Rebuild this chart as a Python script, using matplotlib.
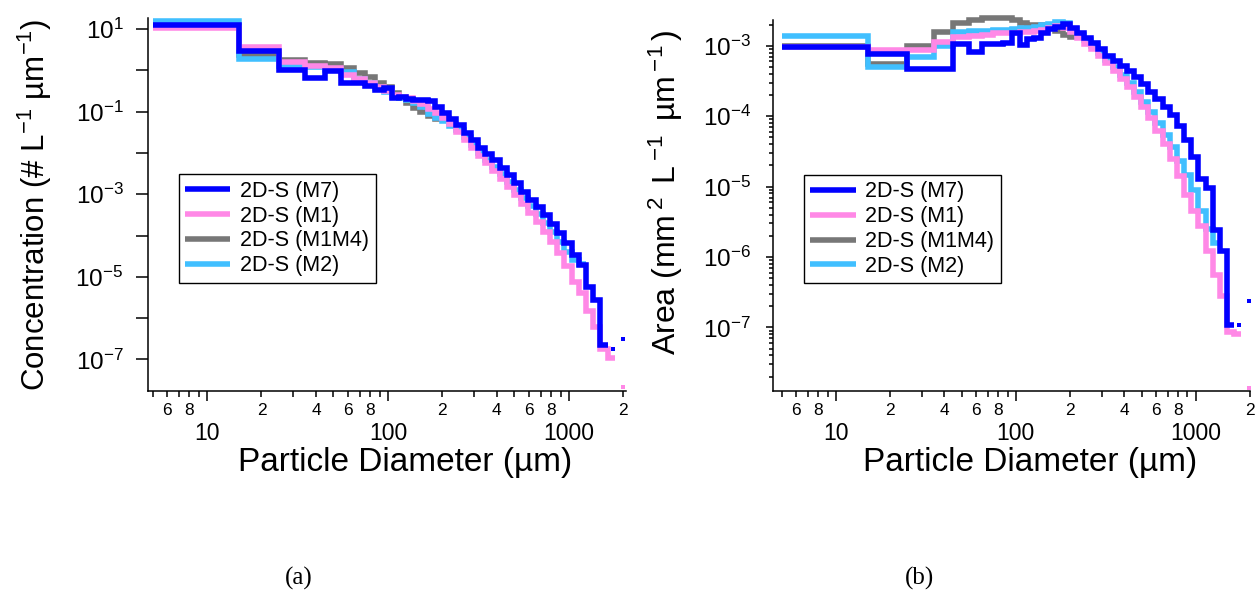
import numpy as np
import matplotlib
matplotlib.use('Agg')
import matplotlib.pyplot as plt
from matplotlib.ticker import LogLocator, FuncFormatter, NullFormatter

plt.rcParams['font.family'] = ['Liberation Sans', 'DejaVu Sans']
plt.rcParams['mathtext.fontset'] = 'custom'
plt.rcParams['mathtext.rm'] = 'Liberation Sans'
plt.rcParams['mathtext.it'] = 'Liberation Sans:italic'
plt.rcParams['mathtext.default'] = 'regular'
plt.rcParams['axes.unicode_minus'] = False

nan = np.nan

# bin edges (um)
edges = [5, 15, 25, 35, 45, 55, 65, 75, 85, 95, 105, 115, 126, 138, 151, 166, 182,
         199, 218, 239, 262, 287, 315, 345, 378, 414, 454, 498, 546, 598, 655, 718,
         787, 862, 945, 1036, 1135, 1244, 1363, 1494, 1637, 1794]

# (a) number concentration, # L-1 um-1
conc_m7 = [12.5, 3.0, 1.02, 0.64, 0.98, 0.50, 0.50, 0.42, 0.33, 0.37,
           0.21, 0.22, 0.20, 0.19, 0.19, 0.18, 0.13, 0.095, 0.068, 0.047,
           0.031, 0.020, 0.0135, 9.5e-3, 6.7e-3, 4.4e-3, 2.9e-3, 1.85e-3, 1.15e-3, 7.4e-4,
           4.9e-4, 3.1e-4, 1.9e-4, 1.15e-4, 6.5e-5, 3.3e-5, 1.9e-5, 5.8e-6, 2.7e-6, 2.2e-7]
conc_m1 = [10.5, 3.7, 1.62, 1.3, 1.11, 0.77, 0.62, 0.50, 0.39, 0.31,
           0.25, 0.23, 0.21, 0.18, 0.155, 0.115, 0.095, 0.072, 0.050, 0.033,
           0.021, 0.0135, 8.6e-3, 5.6e-3, 3.6e-3, 2.4e-3, 1.5e-3, 9.5e-4, 5.8e-4, 3.5e-4,
           2.1e-4, 1.25e-4, 7.0e-5, 3.8e-5, 1.8e-5, 7.5e-6, 4.0e-6, 1.5e-6, 6.0e-7, 1.8e-7,
           1.1e-7]
conc_m1m4 = [12.0, 2.3, 1.75, 1.53, 1.42, 1.11, 0.88, 0.68, 0.50, 0.39,
             0.28, 0.21, 0.16, 0.12, 0.10, 0.08, 0.065]
conc_m2 = [16.0, 1.9, 1.3, 1.2, 1.0, 0.9, 0.6, 0.48, 0.37, 0.30,
           0.23, 0.21, 0.19, 0.16, 0.13, 0.09, 0.07, 0.06, 0.045, 0.036,
           0.024, 0.0155, 0.010, 6.8e-3, 4.6e-3, 3.1e-3, 2.0e-3, 1.3e-3, 8.2e-4, 5.2e-4,
           3.3e-4, 2.0e-4, 1.2e-4, 7.0e-5, 4.0e-5, 2.5e-5, 2.0e-5]

# (b) area, mm2 L-1 um-1
area_m7 = [9.7e-4, 7.6e-4, 4.7e-4, 4.7e-4, 1.08e-3, 8.2e-4, 1.05e-3, 1.08e-3, 1.1e-3, 1.5e-3,
           1.02e-3, 1.27e-3, 1.3e-3, 1.5e-3, 1.76e-3, 1.85e-3, 2.05e-3, 1.78e-3, 1.5e-3, 1.3e-3,
           1.1e-3, 9.0e-4, 7.2e-4, 6.0e-4, 5.1e-4, 4.4e-4, 3.6e-4, 2.85e-4, 2.2e-4, 1.75e-4,
           1.35e-4, 1.03e-4, 7.3e-5, 4.6e-5, 2.6e-5, 1.3e-5, 9.5e-6, 2.4e-6, 1.2e-6, 1.07e-7]
area_m1 = [9.5e-4, 8.6e-4, 8.6e-4, 1.15e-3, 1.35e-3, 1.4e-3, 1.45e-3, 1.5e-3, 1.5e-3, 1.52e-3,
           1.55e-3, 1.58e-3, 1.62e-3, 1.68e-3, 1.78e-3, 1.9e-3, 1.8e-3, 1.55e-3, 1.3e-3, 1.08e-3,
           8.9e-4, 7.2e-4, 5.7e-4, 4.4e-4, 3.4e-4, 2.6e-4, 1.9e-4, 1.35e-4, 9.5e-5, 6.2e-5,
           4.0e-5, 2.5e-5, 1.4e-5, 7.5e-6, 4.5e-6, 2.8e-6, 1.2e-6, 5.5e-7, 2.8e-7, 8.5e-8,
           8.0e-8]
area_m1m4 = [9.8e-4, 5.6e-4, 1.0e-3, 1.58e-3, 2.1e-3, 2.3e-3, 2.45e-3, 2.5e-3, 2.45e-3, 2.3e-3,
             2.1e-3, 2.0e-3, 1.97e-3, 1.95e-3, 1.85e-3, 1.65e-3, 1.45e-3, 1.35e-3]
area_m2 = [1.37e-3, 5.0e-4, 7.0e-4, 1.0e-3, 1.55e-3, 1.6e-3, 1.65e-3, 1.68e-3, 1.7e-3, 1.75e-3,
           1.8e-3, 1.82e-3, 1.88e-3, 1.95e-3, 2.05e-3, 2.15e-3, 2.1e-3, 1.75e-3, 1.45e-3, 1.2e-3,
           9.8e-4, 8.0e-4, 6.4e-4, 5.0e-4, 3.9e-4, 3.0e-4, 2.2e-4, 1.6e-4, 1.15e-4, 8.0e-5,
           5.5e-5, 3.6e-5, 2.3e-5, 1.45e-5, 9.0e-6, 4.5e-6, 2.5e-6, 1.6e-6]

# isolated points at the large end
tail_d = [1750, 1990]
conc_m7_tail = [1.8e-7, 3.2e-7]
conc_m1_tail = [nan, 2.1e-8]
area_m7_tail = [1.1e-7, 2.4e-7]
area_m1_tail = [nan, 1.4e-8]

labels = ['2D-S (M7)', '2D-S (M1)', '2D-S (M1M4)', '2D-S (M2)']
colors = ['#0000FF', '#FF88E6', '#777777', '#40BFFF']
draw_order = [2, 3, 1, 0]
LW = 4


def stairs(ax, vals, color, label, z):
    x = edges[:len(vals) + 1]
    y = list(vals) + [vals[-1]]
    line, = ax.plot(x, y, drawstyle='steps-post', color=color, lw=LW, label=label,
                    zorder=z, solid_joinstyle='miter', solid_capstyle='butt',
                    clip_on=False)
    return line


def dots(ax, vals, color, z):
    ax.plot(tail_d, vals, ls='none', marker='s', ms=3.5, mew=0, color=color, zorder=z)


def minor_lab(v, pos):
    m = int(round(v / 10 ** np.floor(np.log10(v) + 1e-9)))
    return str(m) if m in (2, 4, 6, 8) else ''


def style_axes(ax, handles):
    for s in ['top', 'right']:
        ax.spines[s].set_visible(False)
    for s in ['left', 'bottom']:
        ax.spines[s].set_linewidth(1.1)
    ax.set_xscale('log')
    ax.set_yscale('log')
    ax.xaxis.set_major_locator(LogLocator(base=10, numticks=10))
    ax.xaxis.set_major_formatter(FuncFormatter(lambda v, p: f'{v:g}'))
    ax.xaxis.set_minor_locator(LogLocator(base=10, subs=np.arange(2, 10), numticks=10))
    ax.xaxis.set_minor_formatter(FuncFormatter(minor_lab))
    ax.tick_params(axis='x', which='major', labelsize=16.5, length=7, width=1.1, pad=15)
    ax.tick_params(axis='x', which='minor', labelsize=12.5, length=4.5, width=1.1, pad=4)
    ax.set_xlabel('Particle Diameter (µm)', fontsize=24)
    ax.xaxis.set_label_coords(0.538, -0.15)
    ax.legend(handles, labels, loc='lower left', bbox_to_anchor=(0.065, 0.29),
              fontsize=15.5, frameon=True, fancybox=False, edgecolor='black',
              framealpha=1, handlelength=2.1, handletextpad=0.45, labelspacing=0.18,
              borderpad=0.3, borderaxespad=0)


fig = plt.figure(figsize=(12.57, 5.96), dpi=100)
W, H = 1257, 596
ax1 = fig.add_axes([147.7 / W, 1 - 391 / H, (626 - 147.7) / W, (391 - 18) / H])
ax2 = fig.add_axes([773 / W, 1 - 391 / H, (1250 - 773) / W, (391 - 20) / H])

conc = [conc_m7, conc_m1, conc_m1m4, conc_m2]
area = [area_m7, area_m1, area_m1m4, area_m2]
h1, h2 = {}, {}
for z, i in enumerate(draw_order):
    h1[i] = stairs(ax1, conc[i], colors[i], labels[i], z + 2)
    h2[i] = stairs(ax2, area[i], colors[i], labels[i], z + 2)
dots(ax1, conc_m1_tail, colors[1], 4)
dots(ax1, conc_m7_tail, colors[0], 5)
dots(ax2, area_m1_tail, colors[1], 4)
dots(ax2, area_m7_tail, colors[0], 5)

style_axes(ax1, [h1[i] for i in range(4)])
style_axes(ax2, [h2[i] for i in range(4)])

# (a) axes
ax1.set_xlim(4.7, 2070)
ax1.set_ylim(1.72e-8, 18.5)
ax1.yaxis.set_major_locator(LogLocator(base=10, numticks=20))
ax1.yaxis.set_major_formatter(FuncFormatter(
    lambda v, p: '$10^{%d}$' % round(np.log10(v)) if round(np.log10(v)) % 2 else ''))
ax1.yaxis.set_minor_locator(plt.NullLocator())
ax1.tick_params(axis='y', which='major', labelsize=17.5, length=8.5, width=1.1, pad=9)
ax1.set_ylabel('Concentration (# L$^{-1}$ µm$^{-1}$)', fontsize=22.5)
ax1.yaxis.set_label_coords(-0.195, 0.5)

# (b) axes
ax2.set_xlim(4.47, 2005)
ax2.set_ylim(1.25e-8, 2.33e-3)
ax2.yaxis.set_major_locator(LogLocator(base=10, numticks=20))
ax2.yaxis.set_major_formatter(FuncFormatter(lambda v, p: '$10^{%d}$' % round(np.log10(v))))
ax2.yaxis.set_minor_locator(LogLocator(base=10, subs=np.arange(2, 10), numticks=20))
ax2.yaxis.set_minor_formatter(NullFormatter())
ax2.tick_params(axis='y', which='major', labelsize=17.5, length=5, width=1.1, pad=11)
ax2.tick_params(axis='y', which='minor', length=3, width=1.1)
ax2.set_ylabel(r'Area (mm$\,^{2}\,$ L$\,^{-1}\,$ µm$\,^{-1}\,$)', fontsize=23)
ax2.yaxis.set_label_coords(-0.185, 0.535)

fig.text(299 / W, 1 - 578 / H, '(a)', ha='center', va='center',
         family='Liberation Serif', fontsize=18)
fig.text(920 / W, 1 - 578 / H, '(b)', ha='center', va='center',
         family='Liberation Serif', fontsize=18)

fig.savefig('out.png', dpi=100)
